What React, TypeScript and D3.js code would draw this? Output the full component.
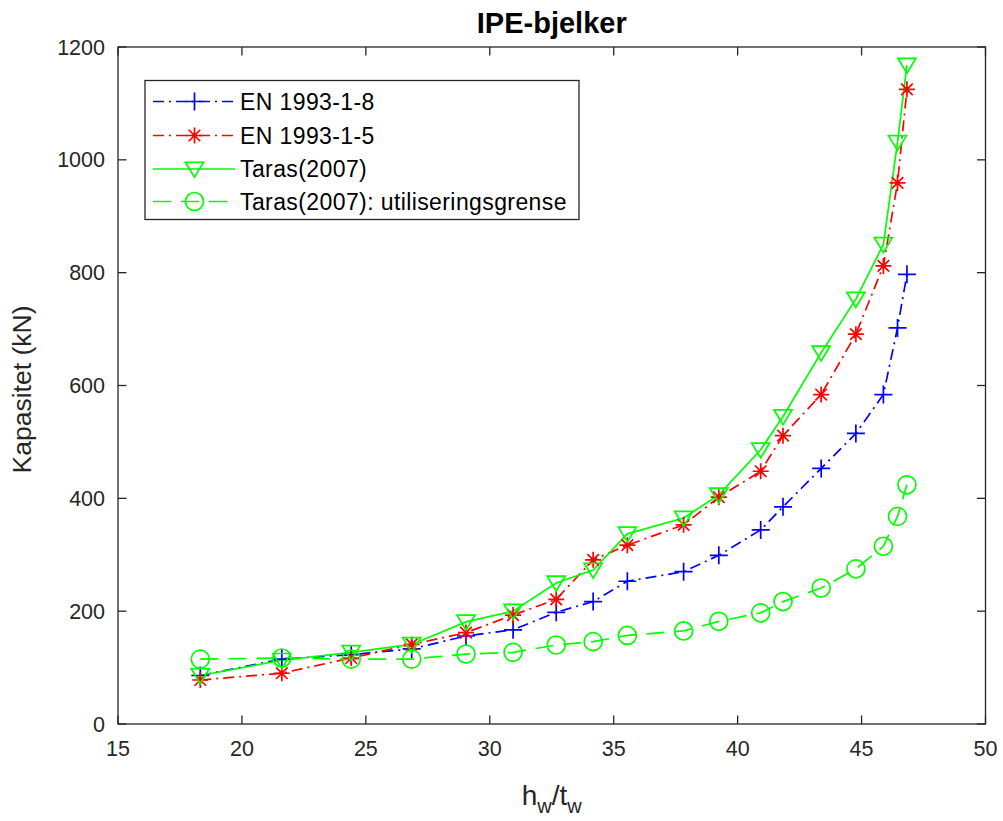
import React from "react";
import * as d3 from "d3";

// Web slenderness h_w/t_w for the IPE series (IPE 80 ... IPE 600)
const slenderness = [18.32, 21.61, 24.41, 26.85, 29.04, 30.94, 32.68, 34.17, 35.55, 37.82, 39.24, 40.93, 41.83, 43.37, 44.77, 45.88, 46.45, 46.83];

// Capacities in kN
const en1993_1_8 = [86, 115, 123, 133, 156, 167, 198, 217, 253, 270, 299, 344, 385, 453, 515, 584, 702, 797];
const en1993_1_5 = [78, 90, 117, 141, 162, 193, 221, 291, 317, 353, 402, 448, 511, 584, 691, 812, 959, 1125];
const taras2007 = [86, 113, 127, 141, 181, 200, 250, 273, 337, 365, 406, 486, 545, 658, 753, 850, 1031, 1168];
const tarasServiceability = [115, 117, 115, 115, 124, 127, 140, 146, 157, 165, 182, 197, 217, 241, 275, 315, 368, 424];

const xTicks = [15, 20, 25, 30, 35, 40, 45, 50];
const yTicks = [0, 200, 400, 600, 800, 1000, 1200];

type MarkerKind = "plus" | "star" | "tri" | "circle";

interface Series {
  name: string;
  values: number[];
  color: string;
  dash: string | undefined;
  marker: MarkerKind;
}

const seriesList: Series[] = [
  { name: "EN 1993-1-8", values: en1993_1_8, color: "#0000ff", dash: "11,5,2,5", marker: "plus" },
  { name: "EN 1993-1-5", values: en1993_1_5, color: "#ff0000", dash: "11,5,2,5", marker: "star" },
  { name: "Taras(2007)", values: taras2007, color: "#00ff00", dash: undefined, marker: "tri" },
  { name: "Taras(2007): utiliseringsgrense", values: tarasServiceability, color: "#00ff00", dash: "18,10", marker: "circle" },
];

const W = 1003;
const H = 821;
const left = 118;
const right = 985.5;
const top = 47;
const bottom = 724;
const axisColor = "#262626";
const font = "'Liberation Sans', Arial, Helvetica, sans-serif";

const x = d3.scaleLinear().domain([15, 50]).range([left, right]);
const y = d3.scaleLinear().domain([0, 1200]).range([bottom, top]);

function Marker({ kind, cx, cy, color }: { kind: MarkerKind; cx: number; cy: number; color: string }) {
  const sw = 1.7;
  if (kind === "plus") {
    const r = 9;
    return (
      <path d={`M${cx - r},${cy}H${cx + r}M${cx},${cy - r}V${cy + r}`} stroke={color} strokeWidth={sw} fill="none" />
    );
  }
  if (kind === "star") {
    const r = 8;
    const d = r * 0.72;
    return (
      <path
        d={`M${cx - r},${cy}H${cx + r}M${cx},${cy - r}V${cy + r}M${cx - d},${cy - d}L${cx + d},${cy + d}M${cx - d},${cy + d}L${cx + d},${cy - d}`}
        stroke={color}
        strokeWidth={sw}
        fill="none"
      />
    );
  }
  if (kind === "tri") {
    const r = 9;
    return (
      <path
        d={`M${cx - r},${cy - r * 0.75}L${cx + r},${cy - r * 0.75}L${cx},${cy + r * 0.9}Z`}
        stroke={color}
        strokeWidth={sw}
        fill="none"
      />
    );
  }
  return <circle cx={cx} cy={cy} r={9} stroke={color} strokeWidth={sw} fill="none" />;
}

export default function App() {
  const line = d3
    .line<number>()
    .x((_, i) => x(slenderness[i]))
    .y((v) => y(v));

  const legendX = 145;
  const legendY = 80.5;
  const legendW = 434;
  const legendH = 139;
  const rowY = [101.5, 135.5, 169, 201.5];

  return (
    <svg
      width={W}
      height={H}
      viewBox={`0 0 ${W} ${H}`}
      style={{ position: "absolute", left: 0, top: 0, background: "#fff" }}
      fontFamily={font}
    >
      <rect x={0} y={0} width={W} height={H} fill="#fff" />

      {/* plot area */}
      <rect x={left} y={top} width={right - left} height={bottom - top} fill="#fff" />

      {/* series lines */}
      {seriesList.map((s) => (
        <path
          key={s.name + "-line"}
          d={line(s.values) || ""}
          fill="none"
          stroke={s.color}
          strokeWidth={1.7}
          strokeDasharray={s.dash}
        />
      ))}

      {/* series markers */}
      {seriesList.map((s) =>
        s.values.map((v, i) => (
          <Marker key={s.name + i} kind={s.marker} cx={x(slenderness[i])} cy={y(v)} color={s.color} />
        ))
      )}

      {/* axes box */}
      <rect x={left} y={top} width={right - left} height={bottom - top} fill="none" stroke={axisColor} strokeWidth={1.3} />

      {/* x ticks */}
      {xTicks.map((t) => (
        <g key={"xt" + t}>
          <line x1={x(t)} x2={x(t)} y1={bottom} y2={bottom - 8.5} stroke={axisColor} strokeWidth={1.3} />
          <line x1={x(t)} x2={x(t)} y1={top} y2={top + 8.5} stroke={axisColor} strokeWidth={1.3} />
          <text x={x(t)} y={bottom + 32} textAnchor="middle" fontSize={21.5} fill={axisColor}>
            {t}
          </text>
        </g>
      ))}

      {/* y ticks */}
      {yTicks.map((t) => (
        <g key={"yt" + t}>
          <line x1={left} x2={left + 8.5} y1={y(t)} y2={y(t)} stroke={axisColor} strokeWidth={1.3} />
          <line x1={right} x2={right - 8.5} y1={y(t)} y2={y(t)} stroke={axisColor} strokeWidth={1.3} />
          <text x={left - 13} y={y(t) + 7.5} textAnchor="end" fontSize={21.5} fill={axisColor}>
            {t}
          </text>
        </g>
      ))}

      {/* title */}
      <text x={(left + right) / 2} y={33} textAnchor="middle" fontSize={29} fontWeight="bold" fill="#000">
        IPE-bjelker
      </text>

      {/* axis labels */}
      <text x={(left + right) / 2} y={805} textAnchor="middle" fontSize={28} fill={axisColor}>
        <tspan>h</tspan>
        <tspan dy={8} fontSize={20}>w</tspan>
        <tspan dy={-8}>/t</tspan>
        <tspan dy={8} fontSize={20}>w</tspan>
      </text>
      <text
        transform={`translate(31,${(top + bottom) / 2 + 4}) rotate(-90)`}
        textAnchor="middle"
        fontSize={26.5}
        fill={axisColor}
      >
        Kapasitet (kN)
      </text>

      {/* legend */}
      <rect x={legendX} y={legendY} width={legendW} height={legendH} fill="#fff" stroke={axisColor} strokeWidth={1.3} />
      {seriesList.map((s, i) => (
        <g key={s.name + "-leg"}>
          <line
            x1={153}
            x2={235}
            y1={rowY[i]}
            y2={rowY[i]}
            stroke={s.color}
            strokeWidth={1.7}
            strokeDasharray={s.dash}
          />
          <Marker kind={s.marker} cx={194.5} cy={rowY[i]} color={s.color} />
          <text x={240} y={rowY[i] + 8} fontSize={23} letterSpacing={0.4} fill="#000">
            {s.name}
          </text>
        </g>
      ))}
    </svg>
  );
}
